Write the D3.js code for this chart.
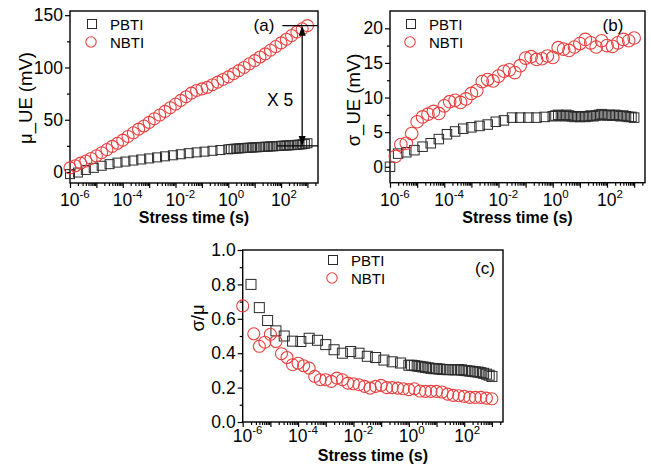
<!DOCTYPE html>
<html><head><meta charset="utf-8">
<script src="https://cdn.jsdelivr.net/npm/d3@7"></script>
<style>
body{margin:0;background:#fff}
svg{display:block}
text{font-family:"Liberation Sans",Arial,Helvetica,sans-serif;fill:#000}
</style>
</head><body>
<svg id="chart" width="651" height="468"></svg>
<script>
// ---------------- DATA ----------------
// x values are log10(stress time / s)
const xTickExps = [-6, -4, -2, 0, 2];
const yTicksA = [0, 50, 100, 150];
const yTicksB = [0, 5, 10, 15, 20];
const yTicksC = [0, 0.2, 0.4, 0.6, 0.8, 1.0];
const seriesNames = ["PBTI", "NBTI"];

const pbtiT = [-6,-5.7,-5.4,-5.1,-4.8,-4.5,-4.2,-3.9,-3.6,-3.3,-3.0,-2.7,-2.4,-2.1,-1.8,-1.5,-1.2,-0.9,-0.6,-0.3,0,
  0.1,0.2,0.3,0.4,0.5,0.6,0.7,0.8,0.9,1.0,1.1,1.2,1.3,1.4,1.5,1.6,1.7,1.8,1.9,2.0,2.1,2.2,2.3,2.4,2.5,2.6,2.7,2.8,2.9,3.0];
const nbtiT = [-6,-5.8,-5.6,-5.4,-5.2,-5,-4.8,-4.6,-4.4,-4.2,-4,-3.8,-3.6,-3.4,-3.2,-3,-2.8,-2.6,-2.4,-2.2,-2,-1.8,-1.6,-1.4,-1.2,-1,
  -0.8,-0.6,-0.4,-0.2,0,0.2,0.4,0.6,0.8,1,1.2,1.4,1.6,1.8,2,2.2,2.4,2.6,2.8,3];

// (a) mean, mV
const pbtiMu = [-2,-0.5,2,4,6,7.5,9,10,11,12,13,14,15,16,17,18,18.8,19.5,20.3,21,21.7,
  22,22.2,22.4,22.6,22.8,23,23.1,23.3,23.4,23.6,23.7,23.9,24,24.2,24.3,24.5,24.6,24.8,24.9,25.1,25.2,25.4,25.5,25.7,25.8,26,26.2,26.5,26.9,27.5];
const nbtiMu = [4,6,8.5,10.5,13,15.5,18.5,21.5,24.5,27.5,30.5,34,37.5,41,44,47.5,51,54.5,58,61.5,65,68.5,72,75.5,78,79.5,
  81,83.5,86,88.5,91,94,97,100,103.5,106.5,110,113,116.5,120,123.5,127,130.5,134,137,140];

// (b) sigma, mV
const pbtiSigma = [0,1.9,2.1,2.4,2.9,3.4,4.0,4.7,5.1,5.5,5.7,5.9,6.1,6.5,6.7,7.1,7.1,7.1,7.1,7.2,7.3,
  7.4,7.5,7.4,7.3,7.5,7.4,7.3,7.2,7.3,7.2,7.3,7.2,7.3,7.4,7.3,7.4,7.5,7.6,7.5,7.4,7.5,7.4,7.5,7.4,7.3,7.4,7.3,7.2,7.2,7.1];
const nbtiSigma = [null,1.5,3.2,3.4,4.8,6.5,7.2,7.6,8.0,7.7,8.8,9.4,9.6,9.3,9.8,10.6,11.0,12.3,12.6,12.4,13.1,13.8,14.0,13.6,14.6,15.7,
  15.9,15.5,15.6,16.0,15.8,17.2,17.0,16.8,17.3,17.8,18.4,17.9,17.3,18.2,17.5,17.4,17.9,18.4,18.2,18.6];

// (c) sigma / mu
const pbtiRatio = [null,0.80,0.665,0.59,0.53,0.50,0.47,0.468,0.487,0.475,0.45,0.42,0.40,0.41,0.40,0.382,0.375,0.36,0.35,0.343,0.33,
  0.33,0.328,0.325,0.323,0.32,0.318,0.315,0.312,0.31,0.31,0.308,0.306,0.305,0.304,0.305,0.304,0.303,0.305,0.303,0.30,
  0.298,0.296,0.294,0.292,0.29,0.287,0.283,0.278,0.272,0.265];
const nbtiRatio = [0.675,null,0.513,0.44,0.464,0.51,0.468,0.397,0.375,0.333,0.342,0.327,0.313,0.265,0.246,0.246,0.236,0.255,0.246,0.226,
  0.222,0.217,0.207,0.197,0.207,0.213,0.2,0.2,0.197,0.193,0.188,0.193,0.18,0.178,0.178,0.178,0.174,0.162,0.155,0.153,0.149,0.143,0.143,0.143,0.139,0.135];

// annotation in (a): NBTI end level vs PBTI end level (mV), arrow position (log10 t)
const annotA = {top: 140, bottom: 25, tArrow: 2.8, tTopStart: 2.05, tBottomStart: 1.85, text: "X 5"};

// ---------------- DRAW ----------------
const svg = d3.select("#chart");
const SQ_COLOR = "#2a2a2a", CI_COLOR = "#e8413f";
const X_MAX = Math.pow(10, 3.4);

const panels = [
  {box:[70,11,318,183], yDomain:[-10.5,154], yTicks:yTicksA, yMinor:[25,75,125], fmt:d3.format("d"),
   ylabel:"μ_UE (mV)", ylab:[25,98], tag:"(a)", tagPos:[264,31], legend:[92,24], sq:9, r:6,
   p:pbtiMu, n:nbtiMu, xlabBase:23, titleBase:40},
  {box:[390,11,645,182.7], yDomain:[-2.3,22.5], yTicks:yTicksB, yMinor:[2.5,7.5,12.5,17.5], fmt:d3.format("d"),
   ylabel:"σ_UE (mV)", ylab:[353,100], tag:"(b)", tagPos:[613,31], legend:[411,24], sq:9.5, r:6.3,
   p:pbtiSigma, n:nbtiSigma, xlabBase:23, titleBase:40},
  {box:[242.7,250,503,422], yDomain:[0,1], yTicks:yTicksC, yMinor:[0.1,0.3,0.5,0.7,0.9], fmt:d3.format(".1f"),
   ylabel:"σ/μ", ylab:[197,318], tag:"(c)", tagPos:[485,274], legend:[333,260], sq:10, r:6,
   p:pbtiRatio, n:nbtiRatio, xlabBase:20, titleBase:39}
];

panels.forEach((P, idx) => {
  const [x0,y0,x1,y1] = P.box;
  const x = d3.scaleLog().domain([1e-6, X_MAX]).range([x0,x1]);
  const y = d3.scaleLinear().domain(P.yDomain).range([y1,y0]);
  const g = svg.append("g");

  // x ticks
  const minor = [];
  for (let e=-6; e<=3; e++) for (let k=2; k<=9; k++) { const v = k*Math.pow(10,e); if (v < X_MAX) minor.push(v); }
  const decades = d3.range(-6,4).map(e => Math.pow(10,e));
  const styleAxis = s => { s.select(".domain").remove(); s.selectAll("line").attr("stroke","#000").attr("stroke-width",1.2); };
  g.append("g").attr("transform",`translate(0,${y1})`)
    .call(d3.axisBottom(x).tickValues(minor).tickSize(3).tickFormat("")).call(styleAxis);
  g.append("g").attr("transform",`translate(0,${y1})`)
    .call(d3.axisBottom(x).tickValues(decades).tickSize(5).tickFormat("")).call(styleAxis);

  // x tick labels with superscripts
  xTickExps.forEach(e => {
    const t = g.append("text").attr("x", x(Math.pow(10,e)) - 10).attr("y", y1 + P.xlabBase)
      .attr("font-size", 17.5);
    t.append("tspan").text("10");
    t.append("tspan").attr("dy", -8).attr("font-size", 11.5).text(e < 0 ? "-" + (-e) : String(e));
  });

  // y ticks
  g.append("g").attr("transform",`translate(${x0},0)`)
    .call(d3.axisLeft(y).tickValues(P.yMinor).tickSize(3).tickFormat("")).call(styleAxis);
  const ya = g.append("g").attr("transform",`translate(${x0},0)`)
    .call(d3.axisLeft(y).tickValues(P.yTicks).tickSize(5).tickPadding(2).tickFormat(P.fmt)).call(styleAxis);
  ya.selectAll("text").attr("font-size",17.5).attr("font-family",'"Liberation Sans",Arial,sans-serif').attr("fill","#000");

  // frame
  g.append("rect").attr("x",x0).attr("y",y0).attr("width",x1-x0).attr("height",y1-y0)
    .attr("fill","none").attr("stroke","#000").attr("stroke-width",1.4);

  // axis titles
  g.append("text").attr("x",(x0+x1)/2).attr("y",y1+P.titleBase).attr("text-anchor","middle")
    .attr("font-size",16).attr("font-weight","bold").text("Stress time (s)");
  g.append("text").attr("transform",`translate(${P.ylab[0]},${P.ylab[1]}) rotate(-90)`)
    .attr("text-anchor","middle").attr("dominant-baseline","central").attr("font-size",18.5).text(P.ylabel);

  // data
  const pd = pbtiT.map((t,i) => ({t, v:P.p[i]})).filter(d => d.v != null);
  const nd = nbtiT.map((t,i) => ({t, v:P.n[i]})).filter(d => d.v != null);
  g.append("g").selectAll("rect").data(pd).join("rect")
    .attr("x", d => x(Math.pow(10,d.t)) - P.sq/2).attr("y", d => y(d.v) - P.sq/2)
    .attr("width",P.sq).attr("height",P.sq).attr("fill","none").attr("stroke",SQ_COLOR).attr("stroke-width",1);
  g.append("g").selectAll("circle").data(nd).join("circle")
    .attr("cx", d => x(Math.pow(10,d.t))).attr("cy", d => y(d.v)).attr("r",P.r)
    .attr("fill","none").attr("stroke",CI_COLOR).attr("stroke-width",1.1);

  // legend
  const [lx,ly] = P.legend;
  g.append("rect").attr("x",lx-4.5).attr("y",ly-4.5).attr("width",9).attr("height",9)
    .attr("fill","none").attr("stroke",SQ_COLOR).attr("stroke-width",1);
  g.append("circle").attr("cx",lx-1).attr("cy",ly+18).attr("r",5.2)
    .attr("fill","none").attr("stroke",CI_COLOR).attr("stroke-width",1.1);
  g.append("text").attr("x",lx+18).attr("y",ly).attr("dominant-baseline","central").attr("font-size",15).text(seriesNames[0]);
  g.append("text").attr("x",lx+18).attr("y",ly+18).attr("dominant-baseline","central").attr("font-size",15).text(seriesNames[1]);

  // panel tag
  g.append("text").attr("x",P.tagPos[0]).attr("y",P.tagPos[1]).attr("text-anchor","middle")
    .attr("font-size",17).text(P.tag);

  // annotation for (a)
  if (idx === 0) {
    const yt = y(annotA.top), yb = y(annotA.bottom), xa = x(Math.pow(10,annotA.tArrow));
    g.append("line").attr("x1",x(Math.pow(10,annotA.tTopStart))).attr("x2",x1).attr("y1",yt).attr("y2",yt)
      .attr("stroke","#000").attr("stroke-width",1.3);
    g.append("line").attr("x1",x(Math.pow(10,annotA.tBottomStart))).attr("x2",x1).attr("y1",yb).attr("y2",yb)
      .attr("stroke","#000").attr("stroke-width",1.3);
    g.append("line").attr("x1",xa).attr("x2",xa).attr("y1",yt+8).attr("y2",yb-8)
      .attr("stroke","#000").attr("stroke-width",1.3);
    g.append("path").attr("d",`M${xa},${yt} L${xa-3.5},${yt+10} L${xa+3.5},${yt+10} Z`).attr("fill","#000");
    g.append("path").attr("d",`M${xa},${yb} L${xa-3.5},${yb-10} L${xa+3.5},${yb-10} Z`).attr("fill","#000");
    g.append("text").attr("x",xa-9).attr("y",(yt+yb)/2+14).attr("text-anchor","end")
      .attr("dominant-baseline","central").attr("font-size",17.5).text(annotA.text);
  }
});
</script>
</body></html>
